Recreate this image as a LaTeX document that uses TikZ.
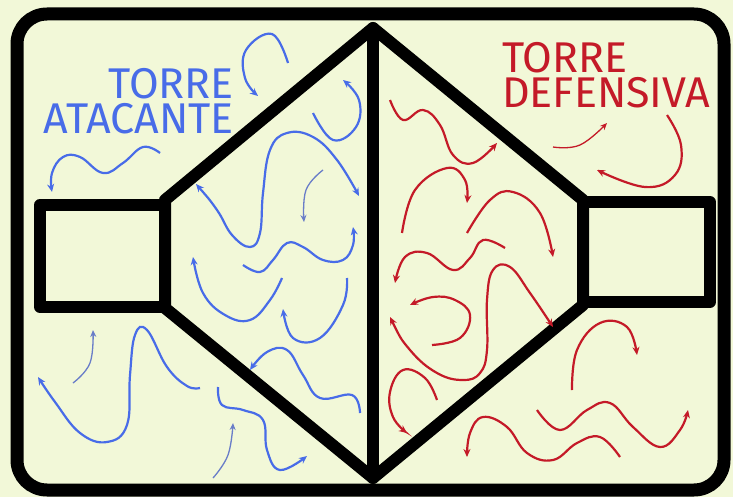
\documentclass[tikz,border=0pt]{standalone}
\usepackage{fontspec}
\usetikzlibrary{arrows.meta}
\newfontfamily\titlefont{Fira Sans}
\definecolor{bgc}{RGB}{242,248,216}
\definecolor{bluec}{RGB}{72,108,232}
\definecolor{bluethin}{RGB}{105,125,200}
\definecolor{redc}{RGB}{196,26,40}
\tikzset{
  frame/.style={line width=13pt, line join=round, line cap=round},
  wall/.style={line width=12pt, line join=round, line cap=round},
  barrow/.style={draw=bluec, line width=2.2pt, -{Stealth[length=8pt,width=7pt]}},
  bthin/.style={draw=bluethin, line width=1.3pt, -{Stealth[length=7pt,width=6pt]}},
  rarrow/.style={draw=redc, line width=2.2pt, -{Stealth[length=8pt,width=7pt]}},
  rthin/.style={draw=redc, line width=1.3pt, -{Stealth[length=7pt,width=6pt]}},
  title/.style={font=\titlefont\fontsize{43}{35}\selectfont, inner sep=0pt},
}
\begin{document}
\begin{tikzpicture}[x=1pt,y=-1pt]
\useasboundingbox (0,0) rectangle (733,497);
\fill[bgc] (0,0) rectangle (733,497);
% outer frame
\draw[frame, rounded corners=30pt] (17,14) rectangle (724,490);
% towers
\draw[wall] (373,28) -- (583,200) -- (583,305) -- (373,478) -- (165,308) -- (165,200) -- cycle;
\draw[wall] (373,28) -- (373,478);
\draw[wall] (40,205) rectangle (165,307);
\draw[wall] (583,202) rectangle (710,302);
% titles
\node[title, text=bluec, align=right, anchor=north east] (ta) at (234,68) {TORRE\\ATACANTE};
\node[title, text=redc, align=left, anchor=north west] (td) at (502,42) {TORRE\\DEFENSIVA};
% blue arrows
\draw[barrow] plot[smooth, tension=0.7] coordinates {(288,63) (272,34) (246,50) (245,78) (258,96)};
\draw[barrow] plot[smooth, tension=0.7] coordinates {(160,153) (143,147) (123,163) (103,173) (80,157) (63,157) (52,173) (52,192)};
\draw[barrow] plot[smooth, tension=0.7] coordinates {(313,113) (333,140) (356,127) (359,100) (343,80)};
\draw[barrow, {Stealth[length=8pt,width=7pt]}-{Stealth[length=8pt,width=7pt]}] plot[smooth, tension=0.7] coordinates {(196,184) (217,210) (232,235) (250,247) (260,233) (263,193) (270,150) (287,133) (313,137) (337,160) (359,196)};
\draw[bthin] plot[smooth, tension=0.7] coordinates {(323,170) (306,190) (304,222)};
\draw[barrow] plot[smooth, tension=0.7] coordinates {(243,265) (260,272) (273,260) (287,243) (303,247) (323,260) (343,260) (353,245) (353,227)};
\draw[barrow] plot[smooth, tension=0.7] coordinates {(282,278) (270,300) (250,320) (225,315) (203,293) (193,257)};
\draw[barrow] plot[smooth, tension=0.7] coordinates {(347,278) (343,305) (320,338) (293,338) (283,309)};
\draw[barrow] plot[smooth, tension=0.7] coordinates {(360,413) (352,395) (320,398) (303,375) (287,350) (267,352) (250,370)};
\draw[barrow] plot[smooth, tension=0.7] coordinates {(218,387) (222,405) (243,410) (263,420) (267,450) (280,470) (307,456)};
\draw[bthin] plot[smooth, tension=0.7] coordinates {(213,478) (228,455) (233,423)};
\draw[barrow] plot[smooth, tension=0.7] coordinates {(200,388) (187,386) (167,367) (147,330) (135,335) (130,375) (127,425) (107,442) (80,433) (55,402) (38,377)};
\draw[bthin] plot[smooth, tension=0.7] coordinates {(73,383) (90,363) (93,330)};
% red arrows
\draw[rarrow] plot[smooth, tension=0.7] coordinates {(390,100) (403,120) (423,110) (440,125) (453,155) (473,163) (497,143)};
\draw[rthin] plot[smooth, tension=0.7] coordinates {(553,147) (580,145) (607,123)};
\draw[rarrow] plot[smooth, tension=0.7] coordinates {(667,115) (681,145) (675,175) (645,187) (597,170)};
\draw[rarrow] plot[smooth, tension=0.7] coordinates {(402,233) (415,190) (447,168) (465,180) (467,203)};
\draw[rarrow] plot[smooth, tension=0.7] coordinates {(467,233) (490,200) (513,192) (540,213) (553,257)};
\draw[rarrow] plot[smooth, tension=0.7] coordinates {(505,248) (483,240) (470,258) (453,270) (427,253) (405,257) (395,283)};
\draw[rarrow, {Stealth[length=8pt,width=7pt]}-{Stealth[length=8pt,width=7pt]}] plot[smooth, tension=0.7] coordinates {(390,317) (410,350) (437,373) (463,380) (480,373) (487,350) (487,300) (493,270) (510,267) (530,293) (553,327)};
\draw[rarrow] plot[smooth, tension=0.7] coordinates {(432,345) (460,338) (470,315) (455,300) (433,297) (410,305)};
\draw[rarrow] plot[smooth, tension=0.7] coordinates {(437,400) (425,378) (403,370) (390,392) (393,417) (407,433)};
\draw[rarrow] plot[smooth, tension=0.7] coordinates {(572,390) (577,350) (600,323) (627,327) (637,355)};
\draw[rarrow] plot[smooth, tension=0.7] coordinates {(537,410) (560,430) (587,410) (610,403) (633,427) (660,447) (680,430) (688,410)};
\draw[rarrow] plot[smooth, tension=0.7] coordinates {(620,457) (600,437) (577,443) (553,460) (527,453) (507,427) (483,417) (470,433) (467,457)};
\end{tikzpicture}
\end{document}
